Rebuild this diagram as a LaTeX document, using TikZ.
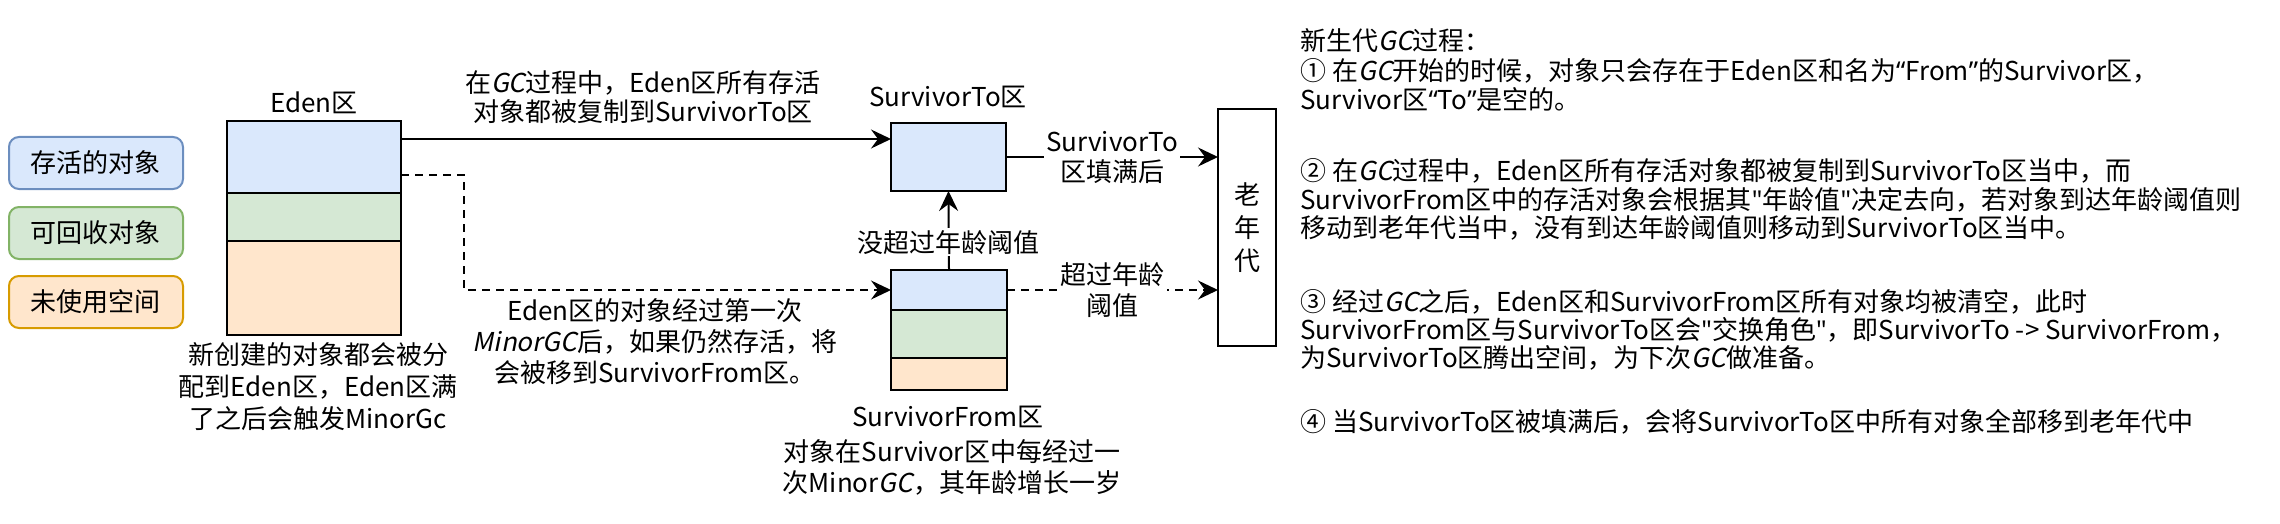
\documentclass[tikz,border=0pt]{standalone}
\usepackage{fontspec}
\setmainfont{Noto Sans CJK SC}
\newfontfamily\itfont[FakeSlant=0.2]{Noto Sans CJK SC}
\newfontfamily\qfont[Ligatures=TeXOff]{Noto Sans}
\newcommand\myit[1]{{\itfont #1}}
\newcommand\qopen{{\qfont “}}
\newcommand\qclose{{\qfont ”}}
\newcommand\qstr{{\qfont "}}
\usetikzlibrary{arrows.meta,calc}
\definecolor{blueF}{HTML}{DAE8FC}
\definecolor{blueS}{HTML}{6C8EBF}
\definecolor{greenF}{HTML}{D5E8D4}
\definecolor{greenS}{HTML}{82B366}
\definecolor{orangeF}{HTML}{FFE6CC}
\definecolor{orangeS}{HTML}{D79B00}
\tikzset{
  legendbox/.style={draw, line width=1pt, rounded corners=5pt, minimum width=87pt, minimum height=26pt, outer sep=0pt},
  part/.style={draw=black, line width=1pt, outer sep=0pt, inner sep=0pt},
  arr/.style={line width=1pt, -{Stealth[length=10pt,width=9.5pt,inset=3.5pt]}},
  dsh/.style={dash pattern=on 4pt off 3pt},
  lbl/.style={align=center, inner sep=1pt},
  rtext/.style={anchor=west, inner sep=0pt},
}
\begin{document}
\begin{tikzpicture}[x=0.5pt,y=-0.5pt, font=\fontsize{13pt}{15pt}\selectfont]
\useasboundingbox (0,0) rectangle (2280,524);

% legend
\node[legendbox, draw=blueS, fill=blueF] (lg1) at (96,163) {存活的对象};
\node[legendbox, draw=greenS, fill=greenF] (lg2) at (96,233) {可回收对象};
\node[legendbox, draw=orangeS, fill=orangeF] (lg3) at (96,302) {未使用空间};

% Eden
\node[part, fill=blueF, minimum width=87pt, minimum height=36pt] (eb) at (314,157) {};
\node[part, fill=greenF, minimum width=87pt, minimum height=24pt] (eg) at (314,217) {};
\node[part, fill=orangeF, minimum width=87pt, minimum height=47pt] (eo) at (314,288) {};
\node (edenlbl) at (314,103) {Eden区};
\node[lbl, font=\fontsize{13pt}{16pt}\selectfont] (edentxt) at (318,387) {新创建的对象都会被分\\配到Eden区，Eden区满\\了之后会触发MinorGc};

% SurvivorTo
\node[part, fill=blueF, minimum width=57.5pt, minimum height=34pt] (sto) at (948.5,157) {};
\node (stolbl) at (948,97) {SurvivorTo区};

% SurvivorFrom
\node[part, fill=blueF, minimum width=58pt, minimum height=20pt] (sfb) at (949,290) {};
\node[part, fill=greenF, minimum width=58pt, minimum height=24pt] (sfg) at (949,334) {};
\node[part, fill=orangeF, minimum width=58pt, minimum height=16pt] (sfo) at (949,374) {};
\node (sflbl) at (948,417) {SurvivorFrom区};
\node[lbl, font=\fontsize{13pt}{15.5pt}\selectfont] (sftxt) at (952,467) {对象在Survivor区中每经过一\\次Minor\myit{GC}，其年龄增长一岁};

% Old generation
\node[part, fill=white, minimum width=29pt, minimum height=118.5pt] (old) at (1247,227.5) {};
\node[align=center, font=\fontsize{13pt}{16.5pt}\selectfont] (oldtxt) at (old.center) {老\\年\\代};

% connectors
\coordinate (a1) at ($(eb.north east)!0.25!(eb.south east)$);
\coordinate (a2) at ($(eb.north east)!0.75!(eb.south east)$);
\draw[arr] (a1) -- (a1 -| sto.west);
\node[lbl, font=\fontsize{13pt}{14.5pt}\selectfont] (copytxt) at (643,97) {在\myit{GC}过程中，Eden区所有存活\\对象都被复制到SurvivorTo区};
\draw[arr, dsh] (a2) -- ++(63,0) |- (sfb.west);
\node[lbl, font=\fontsize{13pt}{15.5pt}\selectfont] (movetxt) at (655,342) {Eden区的对象经过第一次\\\myit{MinorGC}后，如果仍然存活，将\\会被移到SurvivorFrom区。};

\draw[arr] (sfb.north) -- node[lbl, fill=white, pos=0.35] (notold) {没超过年龄阈值} (sto.south);
\draw[arr] (sto.east) -- node[lbl, fill=white, font=\fontsize{13pt}{15pt}\selectfont] (fulltxt) {SurvivorTo\\区填满后} (old.west |- sto.east);
\draw[arr, dsh] (sfb.east) -- node[lbl, fill=white, font=\fontsize{13pt}{15.5pt}\selectfont] (oldtxt2) {超过年龄\\阈值} (old.west |- sfb.east);

% right text
\node[rtext] (r0) at (1300,41) {新生代\myit{GC}过程：};
\node[rtext] (r1) at (1300,71) {① 在\myit{GC}开始的时候，对象只会存在于Eden区和名为\qopen From\qclose 的Survivor区，};
\node[rtext] (r2) at (1300,100) {Survivor区\qopen To\qclose 是空的。};
\node[rtext] (r3) at (1300,171) {② 在\myit{GC}过程中，Eden区所有存活对象都被复制到SurvivorTo区当中，而};
\node[rtext] (r4) at (1300,200) {SurvivorFrom区中的存活对象会根据其\qstr 年龄值\qstr 决定去向，若对象到达年龄阈值则};
\node[rtext] (r5) at (1300,228) {移动到老年代当中，没有到达年龄阈值则移动到SurvivorTo区当中。};
\node[rtext] (r6) at (1300,302) {③ 经过\myit{GC}之后，Eden区和SurvivorFrom区所有对象均被清空，此时};
\node[rtext] (r7) at (1300,330) {SurvivorFrom区与SurvivorTo区会\qstr 交换角色\qstr ，即SurvivorTo -> SurvivorFrom，};
\node[rtext] (r8) at (1300,358) {为SurvivorTo区腾出空间，为下次\myit{GC}做准备。};
\node[rtext] (r9) at (1300,422) {④ 当SurvivorTo区被填满后，会将SurvivorTo区中所有对象全部移到老年代中};
\end{tikzpicture}
\end{document}
